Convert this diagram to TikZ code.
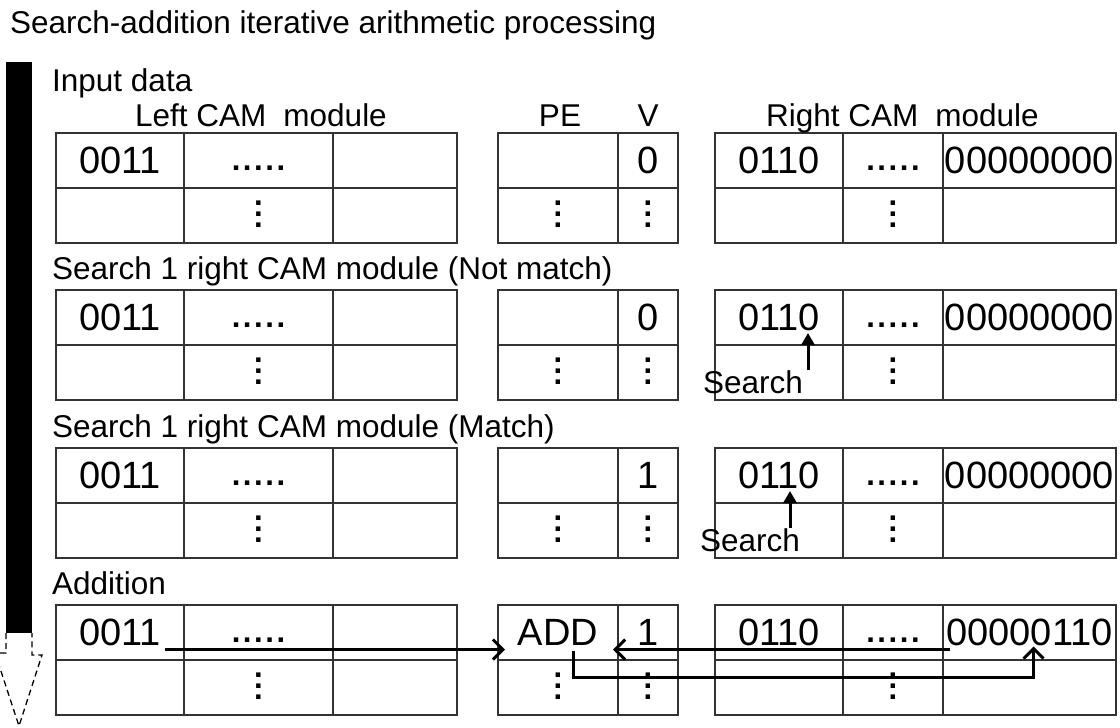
\documentclass[tikz,border=0pt]{standalone}
\usepackage{fontspec}
\setmainfont{Liberation Sans}
\usetikzlibrary{arrows.meta, positioning}

\newcommand{\rowdots}{\smash{\raisebox{-10pt}{\fontsize{31}{36}\selectfont\bfseries .\kern2.6pt.\kern2.6pt.\kern2.6pt.\kern2.6pt.}}}
\newcommand{\coldots}{\smash{\raisebox{-12pt}{\fontsize{31}{36}\selectfont\bfseries\vbox{\baselineskip=11pt\lineskiplimit=-30pt\hbox{.}\hbox{.}\hbox{.}}}}}

\begin{document}
\begin{tikzpicture}[
    x=1pt, y=-1pt,
    lbl/.style={font=\fontsize{31.5}{36}\selectfont, inner sep=0pt},
    cell/.style={rectangle, draw=black!80, line width=1.2pt, minimum height=55pt, inner sep=0pt, outer sep=0pt, font=\fontsize{38}{44}\selectfont},
    wa/.style={cell, minimum width=128pt},
    wb/.style={cell, minimum width=149pt},
    wc/.style={cell, minimum width=124pt},
    wpe/.style={cell, minimum width=120pt},
    wv/.style={cell, minimum width=60pt},
    wd/.style={cell, minimum width=100pt},
    we/.style={cell, minimum width=173pt},
    arrow/.style={-{Straight Barb[length=10pt, width=20pt]}, line width=3pt},
    sarrow/.style={-{Triangle[length=12pt, width=13pt]}, line width=3pt},
]
    \useasboundingbox (0,0) rectangle (1120,728);

    % Title
    \node[lbl, anchor=base west] (title) at (10,33) {Search-addition iterative arithmetic processing};

    % Time bar
    \fill (6,62) rectangle (32,633);
    \draw[line width=1.3pt, dash pattern=on 6pt off 4pt] (6,633) -- (6,653) -- (-5,653) -- (19,726) -- (42,655) -- (32,655) -- (32,633);

    % Tables, one block per step
    \foreach \i/\y/\pe/\vv/\acc in {1/133//0/00000000, 2/290//0/00000000, 3/448//1/00000000, 4/605/ADD/1/00000110} {
        % Left CAM module
        \node[wa, anchor=north west] (l\i-a) at (56,\y) {0011};
        \node[wb, right=0pt of l\i-a] (l\i-b) {\rowdots};
        \node[wc, right=0pt of l\i-b] (l\i-c) {};
        \node[wa, below=0pt of l\i-a] (l\i-d) {};
        \node[wb, below=0pt of l\i-b] (l\i-e) {\coldots};
        \node[wc, below=0pt of l\i-c] (l\i-f) {};
        % PE and V
        \node[wpe, anchor=north west] (p\i-a) at (498,\y) {\pe};
        \node[wv, right=0pt of p\i-a] (p\i-b) {\vv};
        \node[wpe, below=0pt of p\i-a] (p\i-c) {\coldots};
        \node[wv, below=0pt of p\i-b] (p\i-d) {\coldots};
        % Right CAM module
        \node[wa, anchor=north west] (r\i-a) at (715,\y) {0110};
        \node[wd, right=0pt of r\i-a] (r\i-b) {\rowdots};
        \node[we, right=0pt of r\i-b] (r\i-c) {\acc};
        \node[wa, below=0pt of r\i-a] (r\i-d) {};
        \node[wd, below=0pt of r\i-b] (r\i-e) {\coldots};
        \node[we, below=0pt of r\i-c] (r\i-f) {};
    }

    % Step labels
    \node[lbl, anchor=base west] (step1) at (52,91) {Input data};
    \node[lbl, anchor=base west] (step2) at (52,279) {Search 1 right CAM module (Not match)};
    \node[lbl, anchor=base west] (step3) at (52,437) {Search 1 right CAM module (Match)};
    \node[lbl, anchor=base west] (step4) at (52,594) {Addition};

    % Column headers
    \node[lbl, anchor=base west] (lhead) at (135,126) {Left CAM\hspace{17pt}module};
    \node[lbl, anchor=base] (pehead) at (560,126) {PE};
    \node[lbl, anchor=base] (vhead) at (648,126) {V};
    \node[lbl, anchor=base west] (rhead) at (766,126) {Right CAM\hspace{17pt}module};

    % Search
    \node[lbl, anchor=base west] (srch2) at (703,393) {Search};
    \node[lbl, anchor=base west] (srch3) at (700,551) {Search};
    \coordinate (tip2) at (808,333);
    \coordinate (tip3) at (790,491);
    \draw[sarrow] (tip2 |- srch2.north) -- (tip2);
    \draw[sarrow] (tip3 |- srch3.north) -- (tip3);

    % Addition
    \draw[arrow] ([shift={(45,17)}]l4-a.center) -- ([shift={(7,17)}]p4-a.west);
    \draw[arrow] ([shift={(7,17)}]r4-c.west) -- ([shift={(-5,17)}]p4-b.west);
    \draw[arrow] ([shift={(15,18)}]p4-a.center) -- ++(0,27) -| ([shift={(4,14)}]r4-c.center);
\end{tikzpicture}
\end{document}
